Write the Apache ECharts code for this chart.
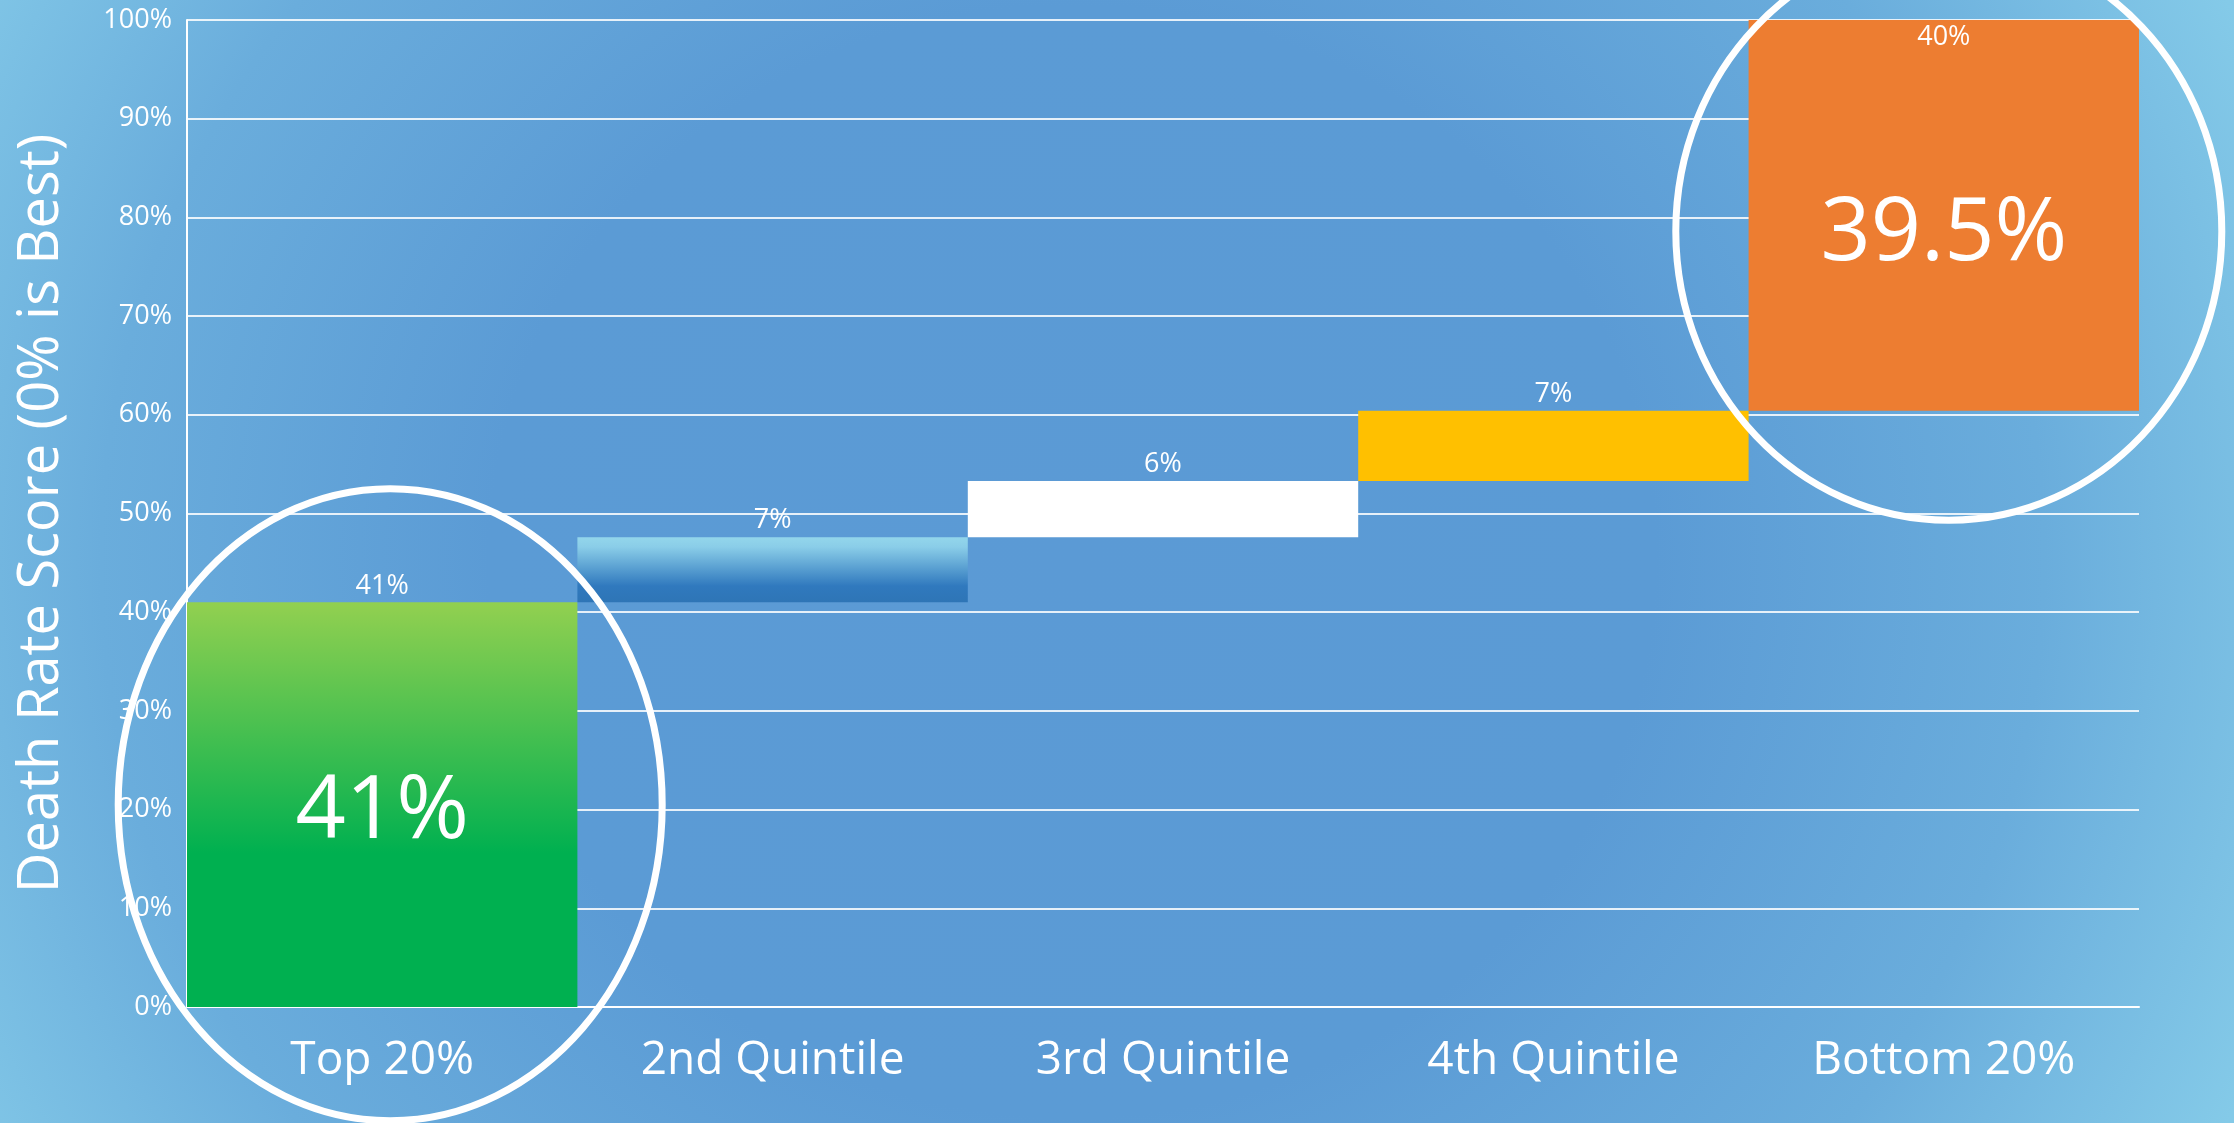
<!DOCTYPE html>
<html>
<head>
<meta charset="utf-8">
<script src="https://cdn.jsdelivr.net/npm/echarts@6/dist/echarts.min.js"></script>
<style>
  html, body { margin: 0; padding: 0; width: 100%; height: 100%; overflow: hidden; }
  #chart {
    width: 2234px; height: 1123px;
    background: radial-gradient(ellipse 58% 110% at 48% 50%, #5b9ad5 0%, #5b9bd5 45%, #6aaddc 75%, #84cae8 100%);
  }
</style>
</head>
<body>
<div id="chart"></div>
<script>
// ---- data ----
const categories = ['Top 20%', '2nd Quintile', '3rd Quintile', '4th Quintile', 'Bottom 20%'];
const baseValues = [0, 41, 47.6, 53.3, 60.4];          // where each step starts (%)
const stepValues = [41, 6.6, 5.7, 7.1, 39.6];          // size of each step (%)
const stepLabels = ['41%', '7%', '6%', '7%', '40%'];
const highlightLabels = ['41%', '', '', '', '39.5%'];
const yMin = 0, yMax = 100, yInterval = 10;
const yAxisTitle = 'Death Rate Score (0% is Best)';

// ---- styles ----
const FONT = 'Open Sans';
const barColors = [
  { type: 'linear', x: 0, y: 0, x2: 0, y2: 1, colorStops: [
    { offset: 0, color: '#92d050' }, { offset: 0.62, color: '#00b050' }, { offset: 1, color: '#00b050' } ] },
  { type: 'linear', x: 0, y: 0, x2: 0, y2: 1, colorStops: [
    { offset: 0, color: '#93d6eb' }, { offset: 0.15, color: '#8acde8' }, { offset: 0.75, color: '#3079be' }, { offset: 1, color: '#2e75b6' } ] },
  '#ffffff',
  '#ffc000',
  '#ed7d31'
];

const chart = echarts.init(document.getElementById('chart'), null, { renderer: 'canvas' });

const stepData = stepValues.map((v, i) => {
  const last = i === stepValues.length - 1;
  return {
    value: v,
    itemStyle: { color: barColors[i] },
    label: last ? { position: 'insideTop', distance: 4 } : { position: 'top', distance: 3 }
  };
});

const highlightData = [];
highlightLabels.forEach((t, i) => {
  if (t) {
    highlightData.push({
      value: [categories[i], baseValues[i] + stepValues[i] / 2],
      label: { formatter: t, offset: i === highlightLabels.length - 1 ? [0, 20] : [0, 8] }
    });
  }
});

chart.setOption({
  backgroundColor: 'transparent',
  animation: false,
  grid: { left: 187, right: 95, top: 20, bottom: 116, containLabel: false },
  xAxis: {
    type: 'category',
    data: categories,
    axisLine: { show: true, lineStyle: { color: '#ffffff', width: 2 } },
    axisTick: { show: false },
    axisLabel: { color: '#ffffff', fontFamily: FONT, fontSize: 46, margin: 31 },
    splitLine: { show: false }
  },
  yAxis: {
    type: 'value',
    min: yMin, max: yMax, interval: yInterval,
    name: yAxisTitle,
    nameLocation: 'middle',
    nameGap: 117,
    nameTextStyle: { color: '#ffffff', fontFamily: FONT, fontSize: 56 },
    axisLine: { show: true, lineStyle: { color: '#ffffff', width: 2 } },
    axisTick: { show: false },
    axisLabel: { color: '#ffffff', fontFamily: FONT, fontSize: 27, margin: 15, formatter: '{value}%' },
    splitLine: { show: true, lineStyle: { color: 'rgba(255,255,255,0.85)', width: 2 } }
  },
  series: [
    {
      name: 'base', type: 'bar', stack: 'total',
      data: baseValues,
      itemStyle: { color: 'transparent' },
      barCategoryGap: '0%',
      silent: true
    },
    {
      name: 'step', type: 'bar', stack: 'total',
      data: stepData,
      barCategoryGap: '0%',
      label: {
        show: true, color: '#ffffff', fontFamily: FONT, fontSize: 27,
        formatter: p => stepLabels[p.dataIndex]
      }
    },
    {
      name: 'highlight', type: 'scatter',
      data: highlightData,
      symbolSize: 1,
      z: 5,
      itemStyle: { color: 'transparent', opacity: 1 },
      label: { show: true, position: 'inside', color: '#ffffff', opacity: 1, fontFamily: FONT, fontSize: 88 }
    }
  ]
});

// Decorative ellipses round the first and last categories
function drawEllipses() {
  const c0 = chart.convertToPixel({ gridIndex: 0 }, [categories[0], 20.5]);
  const c4 = chart.convertToPixel({ gridIndex: 0 }, [categories[4], 78.6]);
  chart.setOption({
    graphic: [
      { type: 'ellipse', id: 'e1', z: 100, shape: { cx: c0[0] + 8, cy: c0[1], rx: 272, ry: 316 },
        style: { fill: 'none', stroke: '#ffffff', lineWidth: 7 } },
      { type: 'ellipse', id: 'e2', z: 100, shape: { cx: c4[0] + 5, cy: c4[1], rx: 273, ry: 289 },
        style: { fill: 'none', stroke: '#ffffff', lineWidth: 7 } }
    ]
  });
}
drawEllipses();
</script>
</body>
</html>
